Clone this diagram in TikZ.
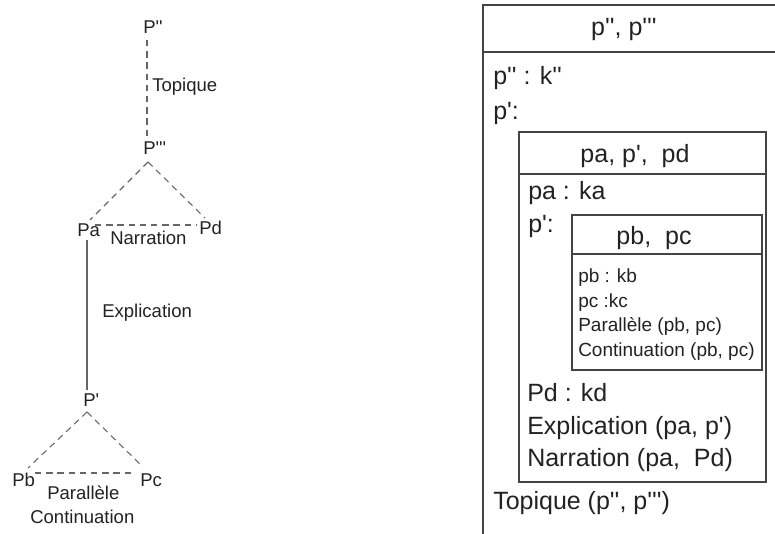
\documentclass[tikz,border=0pt]{standalone}
\usepackage{fontspec}
\setmainfont{Liberation Sans}
\usetikzlibrary{calc}
\newcommand{\myq}{\textquotesingle}
\definecolor{txt}{HTML}{222222}
\definecolor{treeline}{HTML}{666666}
\definecolor{boxline}{HTML}{444444}
\tikzset{
  lbl/.style={inner sep=0pt, anchor=base west, text=txt, font=\fontsize{13.9pt}{16pt}\selectfont},
  big/.style={inner sep=0pt, anchor=base west, text=txt, font=\fontsize{18.75pt}{22pt}\selectfont},
  bigc/.style={big, anchor=base},
  small/.style={inner sep=0pt, anchor=base west, text=txt, font=\fontsize{14.25pt}{17pt}\selectfont},
  rel/.style={draw=treeline, line width=0.8pt},
  reld/.style={rel, dash pattern=on 4.8pt off 3.6pt},
  boxl/.style={draw=boxline, line width=0.8pt},
}
\begin{document}
\begin{tikzpicture}[x=0.75pt, y=-0.75pt]
\useasboundingbox (0,0) rectangle (775,534);
% ---------- tree ----------
\node[lbl] (Ppp)  at (143,34)  {P\myq\myq};
\node[lbl] (Pppp) at (143,155) {P\myq\myq\myq};
\node[lbl] (Pa)   at (77,237)  {Pa};
\node[lbl] (Pd)   at (199,235) {Pd};
\node[lbl] (Pp)   at (83,407)  {P\myq};
\node[lbl] (Pb)   at (12,487)  {Pb};
\node[lbl] (Pc)   at (140,487) {Pc};
\node[lbl] (topl) at (152,92)  {Topique};
\node[lbl] (narl) at (110,245) {Narration};
\node[lbl] (expl) at (102,318) {Explication};
\node[lbl] (parl) at (47,500)  {Parallèle};
\node[lbl] (conl) at (30,523)  {Continuation};

\draw[reld] ($(Ppp.base west)+(4,6)$) -- ($(Pppp.base west)+(4,-17)$);
\draw[reld] ($(Pppp.base west)+(5,7)$) -- ($(Pa.base west)+(13,-17)$);
\draw[reld] ($(Pppp.base west)+(5,7)$) -- ($(Pd.base west)+(6,-17)$);
\draw[reld] ($(Pa.base west)+(18,-12)$) -- ($(Pd.base west)+(-2,-10)$);
\draw[rel]  ($(Pa.base west)+(10,3)$) -- ($(Pp.base west)+(4,-17)$);
\draw[reld] ($(Pp.base west)+(4,5)$) -- ($(Pb.base west)+(16,-19)$);
\draw[reld] ($(Pp.base west)+(4,5)$) -- ($(Pc.base west)+(3,-20)$);
\draw[reld] ($(Pb.base west)+(23,-14)$) -- ($(Pc.base west)+(-7,-14)$);

% ---------- boxes ----------
\draw[boxl] (775,5) -- (483,5) -- (483,534);
\draw[boxl] (483,52) -- (775,52);
\draw[boxl] (519,132) rectangle (766,482);
\draw[boxl] (519,174) -- (766,174);
\draw[boxl] (572,215) rectangle (762,370);
\draw[boxl] (572,254) -- (762,254);

\node[bigc] (t0) at (624,36)  {p\myq\myq, p\myq\myq\myq};
\node[big] (r1) at (493,85)   {p\myq\myq\ : k\myq\myq};
\node[big] (r2) at (493,120)  {p\myq:};
\node[bigc] (t1) at (635,163) {pa, p\myq, \ pd};
\node[big] (r3) at (528,200)  {pa : ka};
\node[big] (r4) at (528,233)  {p\myq:};
\node[bigc] (t2) at (654,245) {pb, \ pc};
\node[small] (s1) at (578,283) {pb : kb};
\node[small] (s2) at (578,308) {pc :kc};
\node[small] (s3) at (578,332) {Parallèle (pb, pc)};
\node[small] (s4) at (578,357) {Continuation (pb, pc)};
\node[big] (r5) at (527,402)  {Pd : kd};
\node[big] (r6) at (527,435)  {Explication (pa, p\myq)};
\node[big] (r7) at (527,467)  {Narration (pa, \ Pd)};
\node[big] (r8) at (493,510)  {Topique (p\myq\myq, p\myq\myq\myq)};
\end{tikzpicture}
\end{document}
